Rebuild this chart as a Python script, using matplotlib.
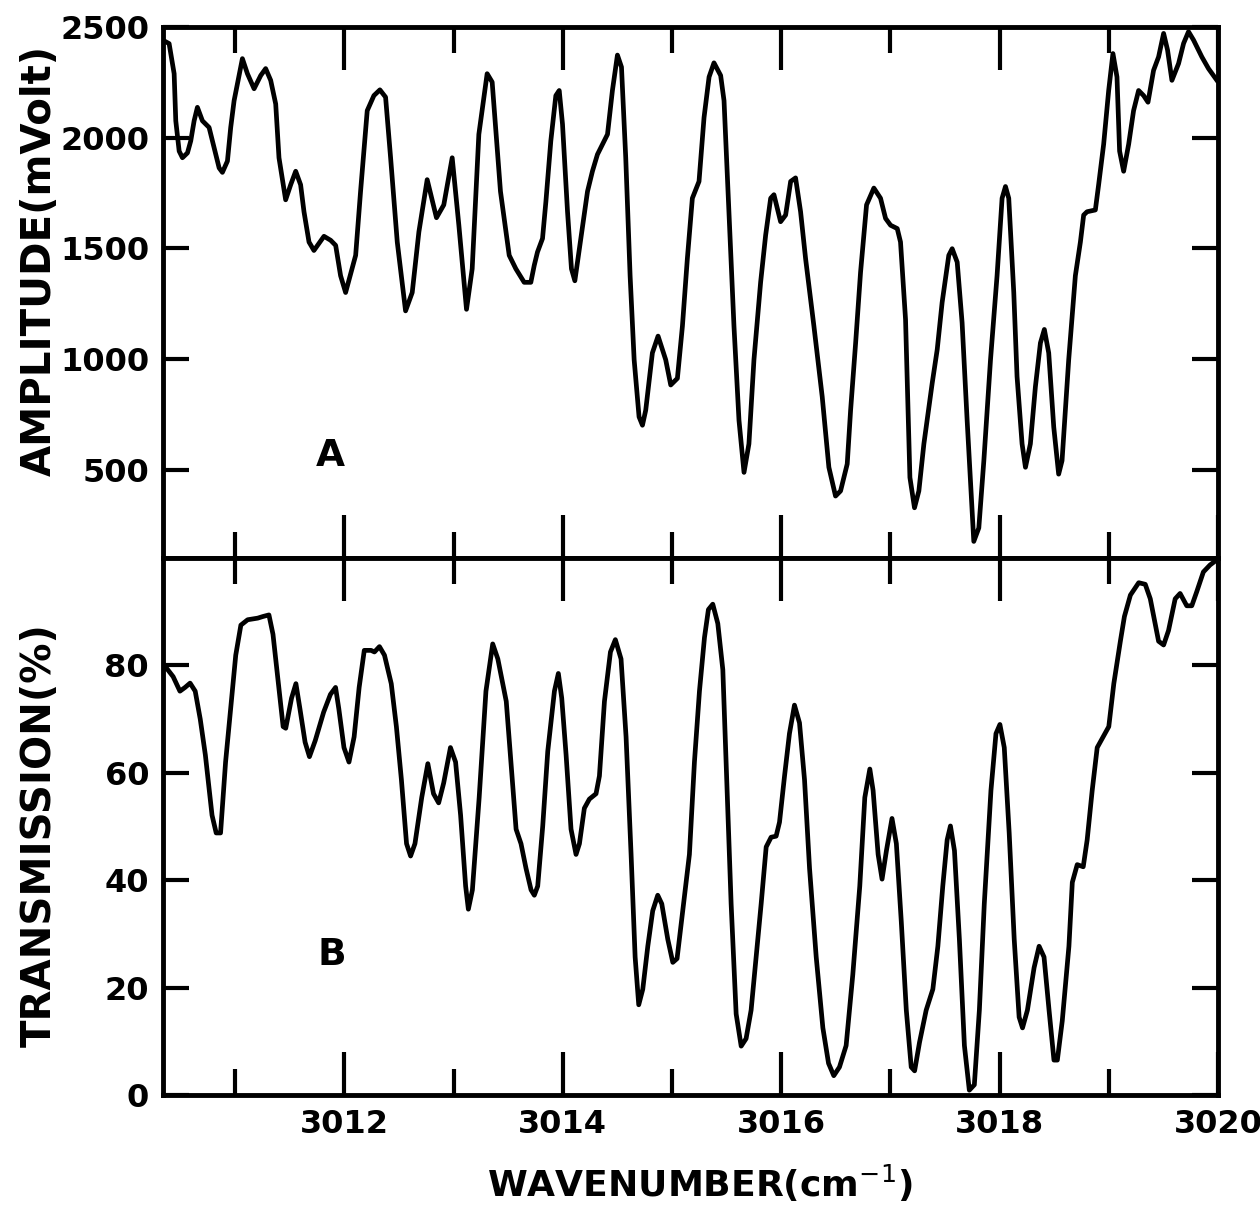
import numpy as np
import matplotlib
matplotlib.use("Agg")
import matplotlib.pyplot as plt

# panel A: amplitude (mVolt) vs wavenumber
wn_a = [3010.366, 3010.396, 3010.442, 3010.457, 3010.488, 3010.518, 3010.564, 3010.594,
        3010.625, 3010.655, 3010.701, 3010.762, 3010.808, 3010.854, 3010.884, 3010.930,
        3010.960, 3010.991, 3011.067, 3011.113, 3011.174, 3011.235, 3011.280, 3011.326,
        3011.372, 3011.402, 3011.463, 3011.509, 3011.555, 3011.600, 3011.631, 3011.677,
        3011.722, 3011.814, 3011.875, 3011.921, 3011.966, 3012.012, 3012.058, 3012.104,
        3012.149, 3012.210, 3012.271, 3012.326, 3012.378, 3012.424, 3012.485, 3012.561,
        3012.622, 3012.683, 3012.759, 3012.844, 3012.911, 3012.988, 3013.049, 3013.119,
        3013.171, 3013.232, 3013.308, 3013.354, 3013.430, 3013.510, 3013.571, 3013.647,
        3013.708, 3013.739, 3013.769, 3013.815, 3013.846, 3013.891, 3013.937, 3013.968,
        3013.998, 3014.044, 3014.080, 3014.111, 3014.166, 3014.227, 3014.272, 3014.318,
        3014.410, 3014.455, 3014.501, 3014.538, 3014.577, 3014.617, 3014.654, 3014.699,
        3014.730, 3014.760, 3014.821, 3014.873, 3014.943, 3014.989, 3015.050, 3015.096,
        3015.141, 3015.187, 3015.248, 3015.294, 3015.340, 3015.385, 3015.446, 3015.477,
        3015.522, 3015.568, 3015.614, 3015.660, 3015.705, 3015.751, 3015.812, 3015.858,
        3015.904, 3015.934, 3015.995, 3016.041, 3016.087, 3016.132, 3016.178, 3016.224,
        3016.300, 3016.376, 3016.437, 3016.498, 3016.544, 3016.605, 3016.636, 3016.682,
        3016.727, 3016.782, 3016.849, 3016.910, 3016.956, 3017.002, 3017.063, 3017.093,
        3017.139, 3017.179, 3017.221, 3017.261, 3017.307, 3017.383, 3017.429, 3017.474,
        3017.535, 3017.566, 3017.612, 3017.657, 3017.703, 3017.749, 3017.764, 3017.810,
        3017.856, 3017.917, 3017.977, 3018.023, 3018.054, 3018.084, 3018.130, 3018.160,
        3018.206, 3018.237, 3018.282, 3018.328, 3018.374, 3018.410, 3018.450, 3018.496,
        3018.541, 3018.572, 3018.633, 3018.694, 3018.740, 3018.770, 3018.801, 3018.877,
        3018.907, 3018.953, 3018.999, 3019.038, 3019.075, 3019.099, 3019.136, 3019.182,
        3019.227, 3019.273, 3019.319, 3019.359, 3019.410, 3019.456, 3019.502, 3019.538,
        3019.578, 3019.639, 3019.685, 3019.730, 3019.776, 3019.852, 3019.913, 3019.990]
amp_a = [2433, 2425, 2289, 2076, 1939, 1909, 1931, 1985, 2076, 2137, 2076, 2046, 1954, 1863,
         1843, 1894, 2046, 2167, 2357, 2289, 2221, 2281, 2312, 2259, 2152, 1909, 1719, 1787,
         1848, 1787, 1665, 1528, 1490, 1554, 1536, 1513, 1376, 1300, 1384, 1468, 1757, 2122,
         2190, 2216, 2183, 1909, 1528, 1217, 1300, 1574, 1810, 1638, 1696, 1909, 1604, 1224,
         1407, 2015, 2289, 2251, 1757, 1468, 1407, 1346, 1346, 1422, 1483, 1544, 1711, 1985,
         2190, 2213, 2061, 1665, 1407, 1353, 1544, 1757, 1848, 1924, 2015, 2213, 2373, 2319,
         1909, 1376, 996, 738, 700, 768, 1027, 1103, 996, 882, 912, 1148, 1452, 1726, 1802,
         2091, 2274, 2338, 2281, 2167, 1665, 1148, 722, 487, 616, 996, 1346, 1559, 1726, 1742,
         1620, 1650, 1802, 1818, 1665, 1452, 1148, 829, 510, 380, 403, 525, 768, 1072, 1391,
         1696, 1772, 1726, 1635, 1604, 1589, 1528, 1178, 464, 327, 403, 616, 890, 1042, 1255,
         1468, 1498, 1437, 1163, 722, 312, 175, 236, 540, 996, 1376, 1726, 1779, 1726, 1300,
         920, 616, 510, 616, 874, 1072, 1133, 1027, 692, 479, 540, 996, 1376, 1528, 1650, 1665,
         1673, 1787, 1970, 2213, 2380, 2274, 1939, 1848, 1970, 2122, 2213, 2190, 2160, 2304,
         2365, 2471, 2396, 2259, 2335, 2426, 2479, 2441, 2365, 2312, 2259]

# panel B: transmission (%) vs wavenumber
wn_b = [3010.341, 3010.372, 3010.433, 3010.495, 3010.542, 3010.588, 3010.635, 3010.681,
        3010.728, 3010.789, 3010.827, 3010.867, 3010.913, 3010.975, 3011.006, 3011.053,
        3011.115, 3011.207, 3011.254, 3011.310, 3011.347, 3011.393, 3011.440, 3011.464,
        3011.517, 3011.557, 3011.594, 3011.641, 3011.681, 3011.734, 3011.811, 3011.873,
        3011.920, 3011.950, 3011.997, 3012.043, 3012.090, 3012.136, 3012.183, 3012.245,
        3012.276, 3012.322, 3012.368, 3012.430, 3012.477, 3012.523, 3012.570, 3012.607,
        3012.647, 3012.709, 3012.765, 3012.817, 3012.864, 3012.910, 3012.972, 3013.019,
        3013.065, 3013.111, 3013.136, 3013.173, 3013.235, 3013.297, 3013.359, 3013.406,
        3013.483, 3013.573, 3013.618, 3013.664, 3013.710, 3013.740, 3013.771, 3013.817,
        3013.863, 3013.924, 3013.960, 3013.991, 3014.031, 3014.076, 3014.122, 3014.153,
        3014.198, 3014.244, 3014.305, 3014.336, 3014.382, 3014.437, 3014.482, 3014.534,
        3014.580, 3014.626, 3014.663, 3014.696, 3014.733, 3014.779, 3014.824, 3014.870,
        3014.907, 3014.962, 3015.008, 3015.047, 3015.099, 3015.160, 3015.206, 3015.252,
        3015.298, 3015.334, 3015.374, 3015.420, 3015.466, 3015.496, 3015.542, 3015.588,
        3015.634, 3015.679, 3015.725, 3015.771, 3015.817, 3015.863, 3015.908, 3015.954,
        3015.985, 3016.031, 3016.076, 3016.122, 3016.168, 3016.214, 3016.260, 3016.321,
        3016.382, 3016.434, 3016.482, 3016.534, 3016.595, 3016.656, 3016.720, 3016.766,
        3016.812, 3016.842, 3016.888, 3016.924, 3016.964, 3017.015, 3017.055, 3017.100,
        3017.146, 3017.191, 3017.222, 3017.267, 3017.328, 3017.389, 3017.435, 3017.480,
        3017.520, 3017.550, 3017.587, 3017.632, 3017.678, 3017.723, 3017.769, 3017.815,
        3017.860, 3017.921, 3017.967, 3018.003, 3018.043, 3018.088, 3018.134, 3018.179,
        3018.210, 3018.255, 3018.316, 3018.362, 3018.407, 3018.453, 3018.498, 3018.529,
        3018.574, 3018.635, 3018.666, 3018.711, 3018.766, 3018.802, 3018.848, 3018.894,
        3018.948, 3019.000, 3019.046, 3019.106, 3019.143, 3019.198, 3019.274, 3019.334,
        3019.380, 3019.456, 3019.502, 3019.547, 3019.608, 3019.653, 3019.714, 3019.760,
        3019.805, 3019.866, 3019.927, 3019.973]
tr_b = [79.2, 79.5, 77.9, 75.2, 75.9, 76.7, 75.2, 70.0, 63.3, 52.1, 48.8, 48.8, 62.0, 75.2,
        81.9, 87.5, 88.5, 88.8, 89.1, 89.4, 85.8, 77.2, 68.6, 68.3, 73.9, 76.6, 71.9, 65.7,
        63.0, 66.0, 71.3, 74.6, 75.9, 71.9, 64.7, 62.0, 66.7, 75.9, 82.8, 82.8, 82.5, 83.5,
        81.9, 76.6, 68.6, 58.7, 46.8, 44.5, 46.8, 55.4, 61.7, 56.1, 54.4, 58.1, 64.7, 62.0,
        52.1, 38.9, 34.6, 38.2, 55.4, 75.2, 84.0, 81.2, 73.3, 49.5, 46.8, 42.2, 38.2, 37.2,
        38.9, 50.1, 64.0, 75.2, 78.5, 73.9, 63.3, 49.5, 44.8, 46.8, 53.4, 55.1, 56.1, 59.4,
        73.3, 82.5, 84.8, 81.2, 66.7, 44.8, 25.7, 16.8, 19.7, 27.7, 34.3, 37.2, 35.6, 29.0,
        24.7, 25.4, 34.3, 44.8, 62.0, 75.2, 85.2, 90.4, 91.4, 87.8, 79.2, 62.0, 35.6, 15.1,
        9.1, 10.5, 15.8, 25.7, 35.6, 46.2, 48.0, 48.2, 50.8, 59.4, 67.3, 72.6, 69.3, 58.7,
        42.2, 25.7, 12.5, 5.9, 3.6, 5.2, 9.2, 22.4, 38.9, 55.4, 60.7, 56.7, 44.8, 40.2, 45.5,
        51.5, 46.8, 32.3, 15.8, 5.2, 4.5, 9.8, 15.8, 19.7, 27.7, 38.9, 47.5, 50.1, 45.5, 29.0,
        9.2, 0.9, 1.9, 15.8, 35.6, 56.7, 67.3, 69.0, 64.7, 48.8, 29.0, 14.5, 12.5, 15.8, 23.7,
        27.7, 25.7, 15.8, 6.5, 6.5, 13.8, 27.7, 39.6, 42.9, 42.5, 47.5, 56.7, 64.7, 66.7,
        68.6, 76.6, 84.5, 89.1, 93.1, 95.4, 95.1, 92.4, 84.5, 83.8, 86.5, 92.4, 93.4, 91.1,
        91.1, 93.7, 97.4, 98.7, 99.4]

xticks_major = [3012, 3014, 3016, 3018, 3020]
xticks_minor = [3011, 3013, 3015, 3017, 3019]
yticks_a = [500, 1000, 1500, 2000, 2500]
yticks_b = [0, 20, 40, 60, 80]

fig = plt.figure(figsize=(12.6, 12.12), dpi=100)
ax1 = fig.add_axes([163/1260, 1-558/1212, 1055/1260, 531/1212])
ax2 = fig.add_axes([163/1260, 1-1095/1212, 1055/1260, 537/1212])

ax1.plot(wn_a, amp_a, color='black', lw=3.4, solid_joinstyle='round')
ax2.plot(wn_b, tr_b, color='black', lw=3.4, solid_joinstyle='round')

for ax in (ax1, ax2):
    ax.set_xlim(3010.34, 3020.0)
    ax.set_xticks(xticks_major)
    ax.set_xticks(xticks_minor, minor=True)
    ax.tick_params(axis='both', which='major', direction='in', length=19, width=3,
                   top=True, right=True, labelsize=23, pad=10)
    ax.tick_params(axis='x', which='major', length=31)
    ax.tick_params(axis='x', which='minor', direction='in', length=19, width=3,
                   top=True, bottom=True)
    for lbl in ax.get_xticklabels() + ax.get_yticklabels():
        lbl.set_fontweight('bold')
    for s in ax.spines.values():
        s.set_linewidth(3.5)

ax1.set_ylim(100, 2500)
ax1.set_yticks(yticks_a)
ax1.tick_params(labelbottom=False)
ax2.set_ylim(0, 100)
ax2.set_yticks(yticks_b)

ax1.text(3011.87, 560, "A", fontsize=27, fontweight='bold', ha='center', va='center')
ax2.text(3011.89, 26, "B", fontsize=27, fontweight='bold', ha='center', va='center')

fig.text(40/1260, 1-260/1212, "AMPLITUDE(mVolt)", rotation=90, fontsize=29,
         fontweight='bold', ha='center', va='center')
fig.text(40/1260, 1-835/1212, "TRANSMISSION(%)", rotation=90, fontsize=29,
         fontweight='bold', ha='center', va='center')
fig.text(700/1260, 1-1183/1212, "WAVENUMBER(cm$^{-1}$)", fontsize=26,
         fontweight='bold', ha='center', va='center')

fig.savefig("out.png", dpi=100)
